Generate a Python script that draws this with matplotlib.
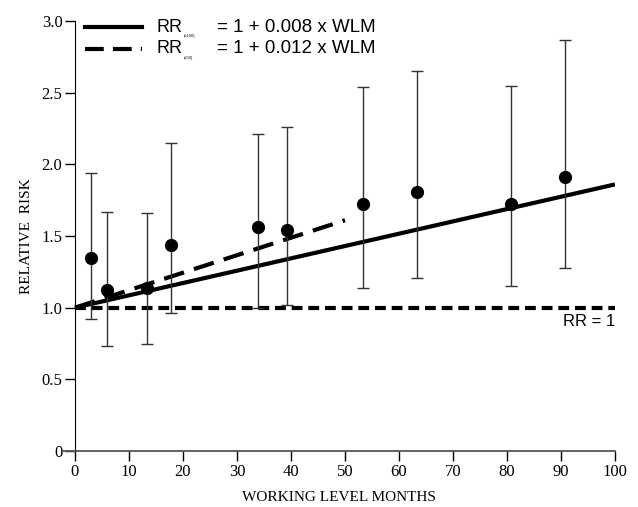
import matplotlib
matplotlib.use("Agg")
import matplotlib.pyplot as plt

# data
wlm = [3.0, 5.9, 13.3, 17.8, 33.9, 39.3, 53.3, 63.3, 80.7, 90.7]
rr = [1.35, 1.12, 1.14, 1.44, 1.56, 1.54, 1.72, 1.81, 1.72, 1.91]
ci_low = [0.92, 0.73, 0.75, 0.96, 1.00, 1.02, 1.14, 1.21, 1.15, 1.28]
ci_high = [1.94, 1.67, 1.66, 2.15, 2.21, 2.26, 2.54, 2.65, 2.55, 2.87]

fit100_x = [0, 100]
fit100_y = [1.0, 1.86]
fit50_x = [0, 50]
fit50_y = [1.0, 1.61]
ref_x = [0, 100]
ref_y = [1.0, 1.0]

xticks = list(range(0, 101, 10))
yticks = [0, 0.5, 1.0, 1.5, 2.0, 2.5, 3.0]
ytick_labels = ["0", "0.5", "1.0", "1.5", "2.0", "2.5", "3.0"]

serif = "Liberation Serif"
sans = "Liberation Sans"

fig = plt.figure(figsize=(6.38, 5.07), dpi=100)
ax = fig.add_axes([63/638, 56/507, 552/638, 430/507])
ax.set_xlim(-2.22, 100)
ax.set_ylim(0, 3.0)

lo = [r - l for r, l in zip(rr, ci_low)]
hi = [h - r for r, h in zip(rr, ci_high)]
ax.errorbar(wlm, rr, yerr=[lo, hi], fmt="o", color="black", ecolor="#333333",
            elinewidth=1.0, capsize=4, capthick=1.0, markersize=8.5, clip_on=False, zorder=3)

ax.plot(fit100_x, fit100_y, color="black", lw=3, solid_capstyle="butt", zorder=2)
ax.plot(fit50_x, fit50_y, color="black", lw=3, dashes=(5, 2.5), zorder=2)
ax.plot(ref_x, ref_y, color="black", lw=3, dashes=(2.6, 1.4), zorder=2)

ax.text(100, 0.955, "RR = 1", ha="right", va="top", fontsize=12, family=sans)

# legend drawn by hand to get the tiny subscripts
t = ax.transAxes
ax.plot([0.04, 0.143], [0.986, 0.986], color="black", lw=3, transform=t, clip_on=False)
ax.plot([0.04, 0.143], [0.935, 0.935], color="black", lw=3, dashes=(4.5, 2.2), transform=t, clip_on=False)
for yy, sub, rest in [(0.986, "(x100)", "= 1 + 0.008 x WLM"), (0.935, "(x50)", "= 1 + 0.012 x WLM")]:
    ax.text(0.170, yy, "RR", transform=t, fontsize=13, family=sans, va="center")
    ax.text(0.218, yy - 0.02, sub, transform=t, fontsize=3, family=sans, va="center")
    ax.text(0.279, yy, rest, transform=t, fontsize=13.5, family=sans, va="center")

ax.spines["top"].set_visible(False)
ax.spines["right"].set_visible(False)
ax.spines["left"].set_position(("data", 0))
ax.spines["left"].set_bounds(0, 3.0)
ax.spines["bottom"].set_color("#555555")
ax.spines["bottom"].set_linewidth(1.3)

ax.set_xticks(xticks)
ax.set_xticklabels([str(v) for v in xticks], family=serif, fontsize=12)
ax.set_yticks(yticks)
ax.set_yticklabels(ytick_labels, family=serif, fontsize=12)
ax.tick_params(axis="both", direction="out", length=7, width=1, color="black", pad=2)

ax.set_xlabel("WORKING LEVEL MONTHS", family=serif, fontsize=11, labelpad=8)
ax.set_ylabel("RELATIVE  RISK", family=serif, fontsize=11, labelpad=6)

fig.savefig("out.png", dpi=100)
